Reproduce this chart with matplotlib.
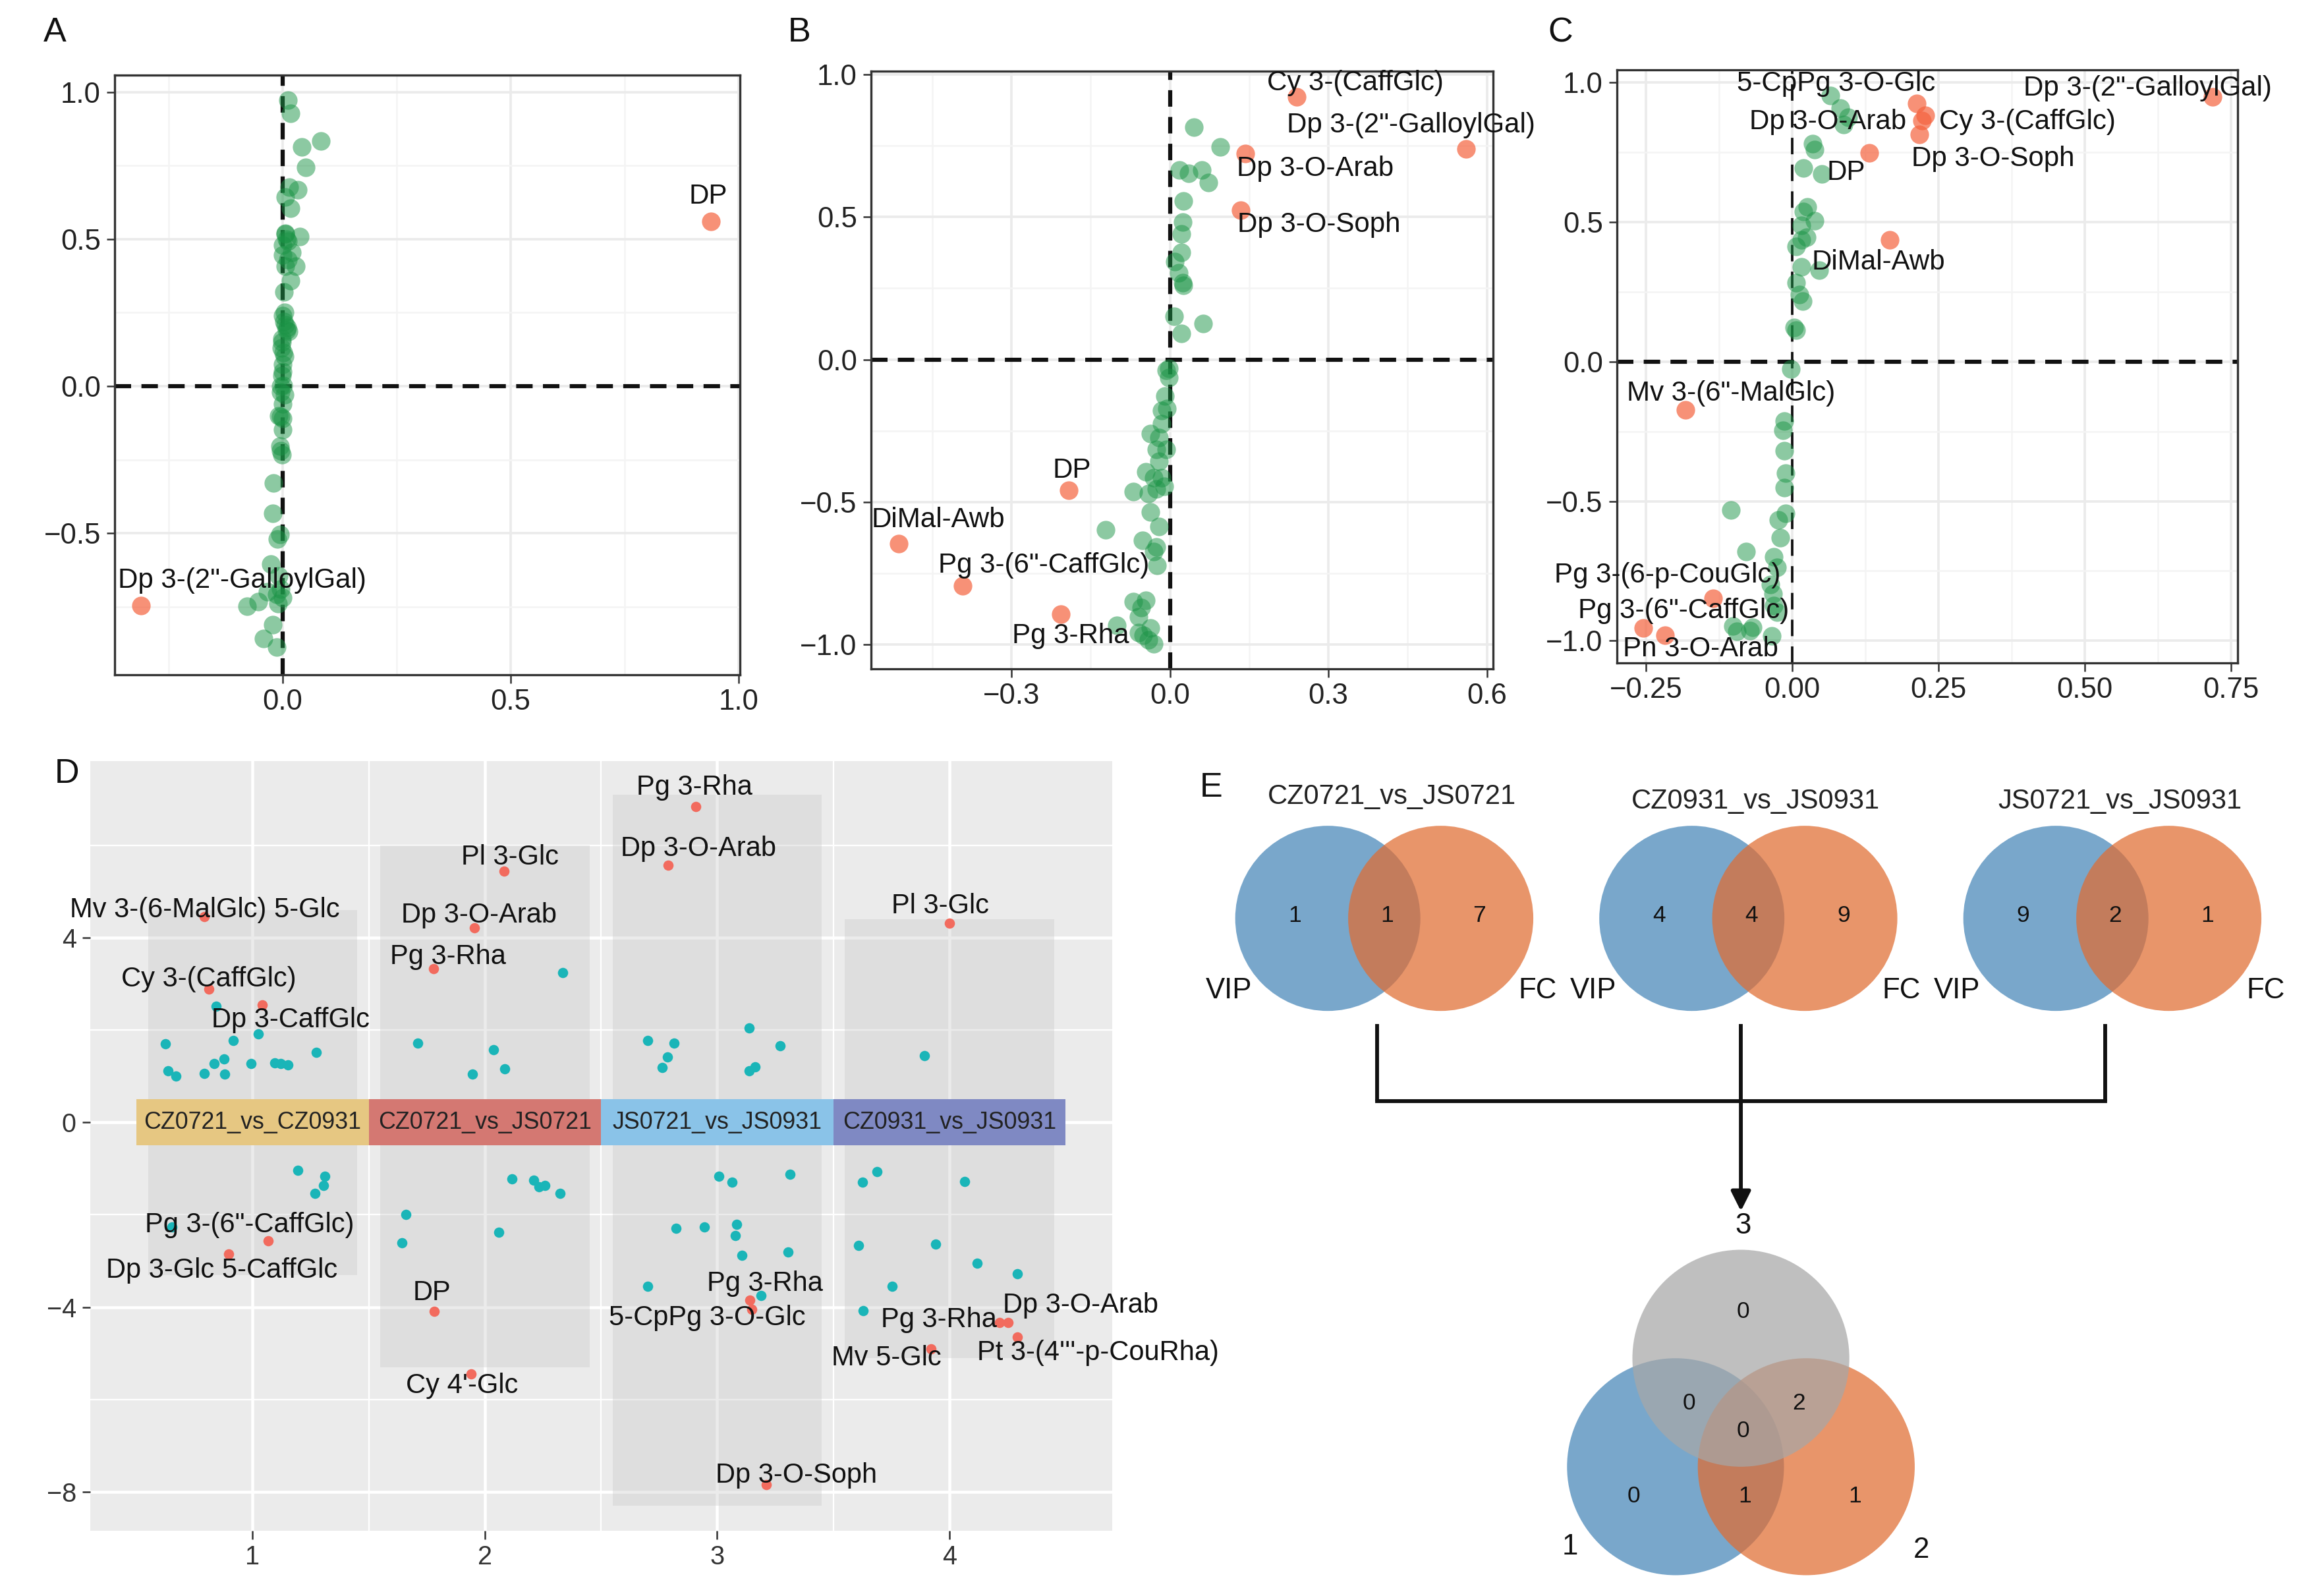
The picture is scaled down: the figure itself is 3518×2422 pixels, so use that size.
import numpy as np
import matplotlib.pyplot as plt
from matplotlib.patches import Rectangle, Circle
from matplotlib.ticker import FuncFormatter

plt.rcParams['font.family'] = ['Liberation Sans', 'DejaVu Sans']
NARROW = ['Liberation Sans Narrow', 'Liberation Sans', 'DejaVu Sans']

# ---------------- data ----------------
# panel A
a_green = [(0.011, 0.972), (0.017, 0.927), (0.042, 0.813), (0.084, 0.834), (0.051, 0.744),
           (0.014, 0.676), (0.033, 0.668), (0.006, 0.644), (0.017, 0.604), (0.006, 0.517),
           (0.037, 0.509), (0.011, 0.494), (0.0, 0.446), (0.02, 0.454), (0.006, 0.407),
           (0.029, 0.407), (0.017, 0.359), (0.003, 0.320), (0.0, 0.24), (0.006, 0.209),
           (0.013, 0.185), (-0.002, 0.161), (0.002, 0.114), (0.0, 0.074), (-0.002, 0.035),
           (0.002, 0.003), (-0.004, -0.021), (0.0, -0.06), (-0.004, -0.104), (-0.009, -0.1),
           (0.0, -0.147), (-0.006, -0.203), (-0.002, -0.234), (-0.02, -0.329), (-0.022, -0.432),
           (-0.006, -0.503), (-0.011, -0.519), (-0.026, -0.606), (-0.009, -0.646), (-0.013, -0.709),
           (-0.033, -0.70), (-0.053, -0.733), (-0.078, -0.748), (-0.022, -0.812), (-0.042, -0.859),
           (-0.013, -0.888), (0.003, 0.22), (0.008, 0.19), (-0.003, 0.13), (0.005, 0.1),
           (0.0, 0.05), (-0.005, 0.0), (0.005, -0.03), (0.0, -0.11), (-0.005, -0.22),
           (0.0, 0.48), (0.008, 0.5), (0.012, 0.43), (-0.004, -0.69), (0.0, -0.72),
           (-0.01, -0.74), (0.004, 0.25), (0.01, 0.2), (-0.002, 0.15), (0.006, 0.52)]
a_red = [(0.94, 0.56), (-0.31, -0.745)]
a_names = ['DP', 'Dp 3-(2"-GalloylGal)']
a_labels = [(0.933, 0.645), (-0.089, -0.66)]

# panel B
b_green = [(0.046, 0.816), (0.095, 0.746), (0.018, 0.664), (0.036, 0.653), (0.06, 0.664),
           (0.073, 0.62), (0.025, 0.555), (0.024, 0.482), (0.022, 0.441), (0.022, 0.376),
           (0.0095, 0.344), (0.017, 0.303), (0.024, 0.270), (0.025, 0.259), (0.0076, 0.151),
           (0.063, 0.127), (0.022, 0.091), (-0.002, -0.031), (-0.007, -0.039), (-0.002, -0.064),
           (-0.009, -0.129), (-0.005, -0.173), (-0.016, -0.178), (-0.016, -0.226), (-0.037, -0.259),
           (-0.021, -0.275), (-0.007, -0.316), (-0.026, -0.316), (-0.021, -0.357), (-0.045, -0.394),
           (-0.031, -0.414), (-0.016, -0.414), (-0.011, -0.446), (-0.026, -0.454), (-0.069, -0.463),
           (-0.040, -0.471), (-0.037, -0.536), (-0.021, -0.585), (-0.121, -0.598), (-0.052, -0.634),
           (-0.026, -0.658), (-0.031, -0.674), (-0.024, -0.723), (-0.069, -0.850), (-0.045, -0.845),
           (-0.054, -0.870), (-0.059, -0.902), (-0.100, -0.932), (-0.037, -0.943), (-0.050, -0.967),
           (-0.040, -0.984), (-0.031, -0.997), (-0.059, -0.959)]
b_red = [(0.2395, 0.922), (0.560, 0.739), (0.143, 0.723), (0.134, 0.523), (-0.191, -0.458),
         (-0.513, -0.647), (-0.392, -0.795), (-0.206, -0.894)]
b_names = ['Cy 3-(CaffGlc)', 'Dp 3-(2"-GalloylGal)', 'Dp 3-O-Arab', 'Dp 3-O-Soph', 'DP',
           'DiMal-Awb', 'Pg 3-(6"-CaffGlc)', 'Pg 3-Rha']
b_labels = [(0.351, 0.971), (0.456, 0.821), (0.275, 0.669), (0.282, 0.474), (-0.186, -0.389),
            (-0.438, -0.563), (-0.239, -0.723), (-0.188, -0.971)]

# panel C
c_green = [(0.066, 0.954), (0.082, 0.909), (0.096, 0.876), (0.088, 0.851), (0.035, 0.782),
           (0.038, 0.761), (0.019, 0.695), (0.051, 0.673), (0.026, 0.554), (0.019, 0.538),
           (0.039, 0.505), (0.016, 0.488), (0.025, 0.447), (0.016, 0.436), (0.007, 0.414),
           (0.016, 0.340), (0.046, 0.327), (0.007, 0.282), (0.013, 0.241), (0.018, 0.216),
           (0.004, 0.122), (0.007, 0.112), (-0.002, -0.026), (-0.013, -0.213), (-0.016, -0.246),
           (-0.013, -0.320), (-0.011, -0.399), (-0.013, -0.452), (-0.011, -0.543), (-0.105, -0.531),
           (-0.024, -0.568), (-0.020, -0.630), (-0.079, -0.680), (-0.031, -0.700), (-0.026, -0.736),
           (-0.037, -0.799), (-0.033, -0.832), (-0.031, -0.873), (-0.101, -0.947), (-0.095, -0.967),
           (-0.068, -0.952), (-0.072, -0.964), (-0.035, -0.983), (-0.026, -0.898)]
c_red = [(0.719, 0.950), (0.213, 0.926), (0.228, 0.884), (0.222, 0.865), (0.218, 0.814),
         (0.132, 0.749), (0.167, 0.436), (-0.182, -0.172), (-0.135, -0.848), (-0.254, -0.955),
         (-0.217, -0.980)]
c_names = ['Dp 3-(2"-GalloylGal)', '5-CpPg 3-O-Glc', 'Cy 3-(CaffGlc)', 'Dp 3-O-Arab',
           'Dp 3-O-Soph', 'DP', 'DiMal-Awb', 'Mv 3-(6"-MalGlc)', 'Pg 3-(6-p-CouGlc)',
           'Pg 3-(6"-CaffGlc)', 'Pn 3-O-Arab']
c_labels = [(0.608, 0.979), (0.075, 0.997), (0.402, 0.860), (0.061, 0.860), (0.344, 0.728),
            (0.092, 0.678), (0.147, 0.356), (-0.104, -0.114), (-0.213, -0.766), (-0.186, -0.894),
            (-0.156, -1.03)]

# panel D
d_groups = ['CZ0721_vs_CZ0931', 'CZ0721_vs_JS0721', 'JS0721_vs_JS0931', 'CZ0931_vs_JS0931']
d_group_colors = ['#E6C782', '#D47872', '#8AC3E8', '#7F89C3']
d_band_top = [4.6, 6.0, 7.1, 4.4]
d_band_bottom = [-3.3, -5.3, -8.3, -5.1]
d_teal_x = [0.844, 0.625, 0.917, 1.025, 1.274, 0.637, 0.669, 0.793, 0.835, 0.876, 0.879, 0.994,
            1.095, 1.121, 1.153, 1.194, 1.312, 1.305, 1.267, 0.653,
            2.336, 1.710, 2.037, 2.085, 1.945, 2.117, 2.209, 2.234, 2.257, 2.324, 1.659, 2.059, 1.643,
            2.702, 2.814, 2.785, 2.763, 3.138, 3.272, 3.138, 3.164, 3.008, 3.065, 3.313, 2.823,
            2.944, 3.084, 3.078, 3.106, 3.304, 2.702, 3.189,
            3.892, 3.625, 3.689, 4.064, 3.609, 3.940, 4.118, 4.293, 3.752, 3.628]
d_teal_y = [2.52, 1.70, 1.77, 1.92, 1.51, 1.12, 1.01, 1.06, 1.28, 1.38, 1.05, 1.28,
            1.29, 1.28, 1.25, -1.04, -1.16, -1.36, -1.53, -2.27,
            3.24, 1.72, 1.57, 1.16, 1.04, -1.22, -1.25, -1.40, -1.36, -1.53, -2.00, -2.38, -2.61,
            1.77, 1.72, 1.42, 1.19, 2.04, 1.66, 1.12, 1.21, -1.16, -1.29, -1.13, -2.29,
            -2.27, -2.21, -2.45, -2.88, -2.81, -3.55, -3.75,
            1.44, -1.29, -1.06, -1.28, -2.67, -2.64, -3.05, -3.28, -3.55, -4.08]
d_red_x = [0.793, 0.812, 1.041, 1.067, 0.898,
           2.082, 1.955, 1.780, 1.783, 1.942,
           2.909, 2.788, 3.141, 3.148, 3.211,
           4.000, 4.217, 4.253, 4.293, 3.920]
d_red_y = [4.45, 2.88, 2.55, -2.57, -2.85,
           5.44, 4.21, 3.33, -4.09, -5.44,
           6.84, 5.57, -3.85, -4.05, -7.85,
           4.31, -4.34, -4.34, -4.65, -4.90]
d_names = ['Mv 3-(6-MalGlc) 5-Glc', 'Cy 3-(CaffGlc)', 'Dp 3-CaffGlc', 'Pg 3-(6"-CaffGlc)',
           'Dp 3-Glc 5-CaffGlc',
           'Pl 3-Glc', 'Dp 3-O-Arab', 'Pg 3-Rha', 'DP', "Cy 4'-Glc",
           'Pg 3-Rha', 'Dp 3-O-Arab', 'Pg 3-Rha', '5-CpPg 3-O-Glc', 'Dp 3-O-Soph',
           'Pl 3-Glc', 'Pg 3-Rha', 'Dp 3-O-Arab', "Pt 3-(4'''-p-CouRha)", 'Mv 5-Glc']
d_lab_x = [0.793, 0.812, 1.162, 0.987, 0.866,
           2.107, 1.974, 1.840, 1.773, 1.900,
           2.903, 2.919, 3.205, 2.957, 3.342,
           3.959, 3.954, 4.564, 4.640, 3.730]
d_lab_y = [4.60, 3.10, 2.22, -2.22, -3.21,
           5.74, 4.48, 3.58, -3.69, -5.71,
           7.26, 5.92, -3.49, -4.23, -7.64,
           4.69, -4.27, -3.96, -4.99, -5.11]

# panel E
e_titles = ['CZ0721_vs_JS0721', 'CZ0931_vs_JS0931', 'JS0721_vs_JS0931']
e_vip_only = [1, 4, 9]
e_both = [1, 4, 2]
e_fc_only = [7, 9, 1]
# final 3-set venn: only1, only2, only3, 1&2, 1&3, 2&3, all
e3_counts = [0, 1, 0, 1, 0, 2, 0]

# ---------------- figure ----------------
W, H = 1560, 1074
fig = plt.figure(figsize=(3518 / 300, 2422 / 300), dpi=300)


def box(l, t, r, b):
    return [l / W, 1 - b / H, (r - l) / W, (b - t) / H]


def fmt(d):
    return FuncFormatter(lambda v, p: ('%.*f' % (d, v)).replace('-', '\u2212'))


GREEN = '#1B9446'
RED = '#F5623E'


def scatter_panel(ax, green, red, names, labels, xlim, ylim, xt, yt, xm, ym, dec, vlw):
    ax.set_xlim(xlim)
    ax.set_ylim(ylim)
    ax.set_xticks(xt)
    ax.set_yticks(yt)
    ax.set_xticks(xm, minor=True)
    ax.set_yticks(ym, minor=True)
    ax.xaxis.set_major_formatter(fmt(dec))
    ax.yaxis.set_major_formatter(fmt(1))
    ax.grid(which='major', color='#EBEBEB', lw=0.9)
    ax.grid(which='minor', color='#F4F4F4', lw=0.6)
    ax.set_axisbelow(True)
    ax.tick_params(which='minor', length=0)
    ax.tick_params(which='major', length=3, width=0.6, color='#333333',
                   labelsize=10.5, labelcolor='#222222', pad=2)
    for s in ax.spines.values():
        s.set_color('#333333')
        s.set_linewidth(0.8)
    ax.axhline(0, color='#111111', lw=1.5, dashes=(4, 2.5), zorder=1)
    ax.axvline(0, color='#111111', lw=vlw, dashes=(4 * 1.5 / vlw, 2.5 * 1.5 / vlw), zorder=1)
    g = np.array(green)
    r = np.array(red)
    ax.scatter(g[:, 0], g[:, 1], s=46, color=GREEN, alpha=0.5, lw=0, zorder=2)
    ax.scatter(r[:, 0], r[:, 1], s=46, color=RED, alpha=0.7, lw=0, zorder=2)
    for n, (x, y) in zip(names, labels):
        ax.text(x, y, n, ha='center', va='center', fontsize=10.1, color='#111111', zorder=3)


axA = fig.add_axes(box(77, 50.5, 498, 454))
scatter_panel(axA, a_green, a_red, a_names, a_labels, (-0.369, 1.003), (-0.981, 1.058),
              [0.0, 0.5, 1.0], [-0.5, 0.0, 0.5, 1.0], [-0.25, 0.25, 0.75],
              [-0.75, -0.25, 0.25, 0.75], 1, 1.5)

axB = fig.add_axes(box(586, 48, 1005, 450))
scatter_panel(axB, b_green, b_red, b_names, b_labels, (-0.566, 0.612), (-1.085, 1.011),
              [-0.3, 0.0, 0.3, 0.6], [-1.0, -0.5, 0.0, 0.5, 1.0], [-0.45, -0.15, 0.15, 0.45],
              [-0.75, -0.25, 0.25, 0.75], 1, 1.5)

axC = fig.add_axes(box(1088, 47, 1506, 446))
scatter_panel(axC, c_green, c_red, c_names, c_labels, (-0.300, 0.762), (-1.079, 1.046),
              [-0.25, 0.0, 0.25, 0.5, 0.75], [-1.0, -0.5, 0.0, 0.5, 1.0],
              [-0.125, 0.125, 0.375, 0.625], [-0.75, -0.25, 0.25, 0.75], 2, 0.9)

# panel D
axD = fig.add_axes(box(60.6, 512, 748.4, 1030))
axD.set_facecolor('#EBEBEB')
axD.set_xlim(0.30, 4.70)
axD.set_ylim(-8.84, 7.83)
axD.set_xticks([1, 2, 3, 4])
axD.set_yticks([-8, -4, 0, 4])
axD.set_xticks([1.5, 2.5, 3.5], minor=True)
axD.set_yticks([-6, -2, 2, 6], minor=True)
axD.yaxis.set_major_formatter(FuncFormatter(lambda v, p: ('%d' % v).replace('-', '\u2212')))
axD.grid(which='major', color='white', lw=1.1)
axD.grid(which='minor', color='white', lw=0.55)
axD.set_axisbelow(True)
axD.tick_params(which='minor', length=0)
axD.tick_params(which='major', length=3, width=0.6, color='#333333', labelsize=9.5,
                labelcolor='#333333', pad=2)
for lab in axD.get_xticklabels() + axD.get_yticklabels():
    lab.set_family(NARROW)
for s in axD.spines.values():
    s.set_visible(False)
for i in range(4):
    xc = i + 1
    axD.add_patch(Rectangle((xc - 0.45, d_band_bottom[i]), 0.9,
                            d_band_top[i] - d_band_bottom[i],
                            facecolor='#C8C8C8', alpha=0.35, lw=0, zorder=1))
    axD.add_patch(Rectangle((xc - 0.5, -0.5), 1.0, 1.0, facecolor=d_group_colors[i],
                            lw=0, zorder=2))
    axD.text(xc, 0, d_groups[i], ha='center', va='center', fontsize=8.6,
             family=NARROW, color='#222222', zorder=3)
axD.scatter(d_teal_x, d_teal_y, s=14, color='#1AB5B8', lw=0, zorder=4)
axD.scatter(d_red_x, d_red_y, s=14, color='#F26B5E', lw=0, zorder=4)
for n, x, y in zip(d_names, d_lab_x, d_lab_y):
    axD.text(x, y, n, ha='center', va='center', fontsize=10, family=NARROW,
             color='#111111', zorder=5, clip_on=False)

# overlay for panel letters and panel E
ov = fig.add_axes([0, 0, 1, 1])
ov.set_xlim(0, W)
ov.set_ylim(H, 0)
ov.axis('off')
ov.patch.set_visible(False)

for letter, x, y in [('A', 37, 22), ('B', 538, 22), ('C', 1050, 22), ('D', 45, 521), ('E', 815, 530)]:
    ov.text(x, y, letter, ha='center', va='center', fontsize=12.5, color='#111111')

BLUE = '#4686B8'
ORANGE = '#E06C31'
GREY = '#A7A7A7'
ALPHA = 0.72
NUM = dict(ha='center', va='center', fontsize=8.5, family=NARROW, color='#111111')
LAB = dict(ha='center', va='center', fontsize=10.5, family=NARROW, color='#111111')

venn_x0, venn_dx, venn_off, venn_r, venn_y = 893.6, 245, 76, 62.3, 618
conn_x = []
for i in range(3):
    bx = venn_x0 + i * venn_dx
    ox = bx + venn_off
    mid = (bx + ox) / 2
    conn_x.append(mid - 5)
    ov.add_patch(Circle((bx, venn_y), venn_r, facecolor=BLUE, alpha=ALPHA, lw=0))
    ov.add_patch(Circle((ox, venn_y), venn_r, facecolor=ORANGE, alpha=ALPHA, lw=0))
    ov.text(bx - 22, venn_y - 2, str(e_vip_only[i]), **NUM)
    ov.text(mid + 2, venn_y - 2, str(e_both[i]), **NUM)
    ov.text(ox + 26, venn_y - 2, str(e_fc_only[i]), **NUM)
    ov.text(bx - 66.5, 666.5, 'VIP', **LAB)
    ov.text(ox + 65, 666.5, 'FC', **LAB)
    ov.text(mid + 5, 536 if i == 0 else 539, e_titles[i], ha='center', va='center',
            fontsize=10, family=NARROW, color='#222222')
    ov.plot([conn_x[i], conn_x[i]], [689, 741], color='#111111', lw=1.4, solid_capstyle='butt')

ov.plot([conn_x[0], conn_x[2]], [741, 741], color='#111111', lw=1.4, solid_capstyle='projecting')
ov.annotate('', xy=(conn_x[1], 815), xytext=(conn_x[1], 741),
            arrowprops=dict(arrowstyle='-|>,head_length=0.6,head_width=0.3',
                            color='#111111', lw=1.4, shrinkA=0, shrinkB=0))

# final three-set venn
gx, gy, r3 = conn_x[1], 914, 73
c1 = (gx - 44, 987)
c2 = (gx + 44, 987)
ov.add_patch(Circle(c1, r3, facecolor=BLUE, alpha=ALPHA, lw=0))
ov.add_patch(Circle(c2, r3, facecolor=ORANGE, alpha=ALPHA, lw=0))
ov.add_patch(Circle((gx, gy), r3, facecolor=GREY, alpha=ALPHA, lw=0))
pos3 = [(gx - 72, 1007), (gx + 76.5, 1007), (gx + 1.5, 882.5), (gx + 2.5, 1007),
        (gx - 35, 944.5), (gx + 39, 944.5), (gx + 1.5, 963)]
for (x, y), n in zip(pos3, e3_counts):
    ov.text(x, y, str(n), **NUM)
ov.text(gx - 115, 1041, '1', **LAB)
ov.text(gx + 121.5, 1043, '2', **LAB)
ov.text(gx + 1.5, 825, '3', **LAB)

fig.savefig('out.png', dpi=300)
